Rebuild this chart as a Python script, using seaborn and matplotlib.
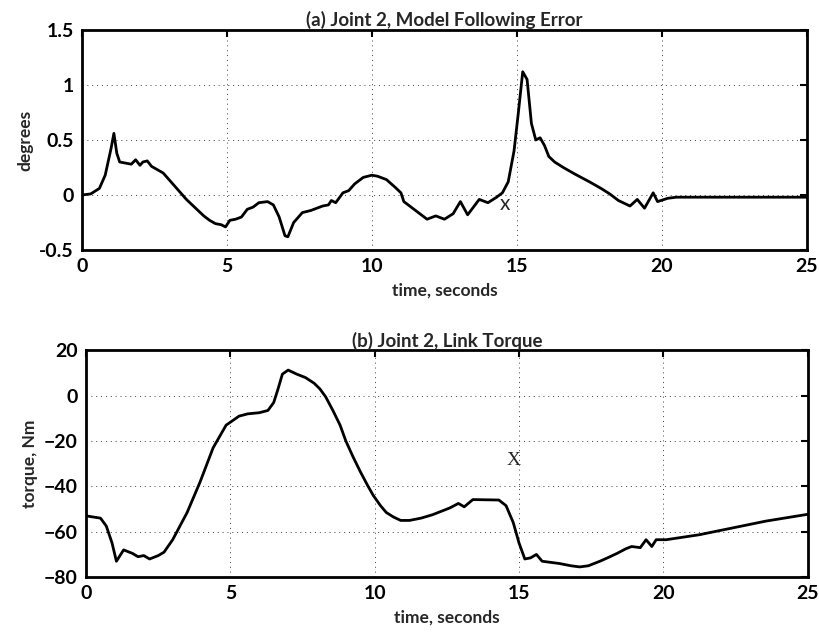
import matplotlib
matplotlib.use("Agg")
import matplotlib.pyplot as plt
import seaborn as sns
import pandas as pd

# ---- data ----
t_err = [0.0, 0.3, 0.6, 0.8, 1.0, 1.1, 1.2, 1.3, 1.5, 1.7, 1.85, 2.0, 2.1, 2.25, 2.4,
         2.6, 2.8, 3.0, 3.2, 3.4, 3.6, 3.8, 4.0, 4.2, 4.4, 4.6, 4.8, 4.95, 5.1, 5.3,
         5.5, 5.7, 5.9, 6.1, 6.4, 6.6, 6.8, 7.0, 7.1, 7.3, 7.6, 7.9, 8.3, 8.5, 8.6,
         8.75, 9.0, 9.2, 9.4, 9.7, 10.0, 10.2, 10.5, 10.8, 11.0, 11.1, 11.4, 11.9,
         12.2, 12.5, 12.8, 13.05, 13.3, 13.7, 14.0, 14.3, 14.5, 14.7, 14.9, 15.05,
         15.2, 15.35, 15.5, 15.65, 15.8, 15.95, 16.1, 16.3, 16.6, 17.0, 17.5, 17.9,
         18.2, 18.5, 18.9, 19.15, 19.4, 19.7, 19.85, 20.2, 20.5, 25.0]
err_deg = [0.0, 0.01, 0.06, 0.18, 0.42, 0.56, 0.38, 0.30, 0.29, 0.28, 0.32, 0.27, 0.30,
           0.31, 0.26, 0.23, 0.20, 0.14, 0.08, 0.02, -0.04, -0.09, -0.14, -0.19, -0.23,
           -0.26, -0.27, -0.29, -0.23, -0.22, -0.20, -0.13, -0.11, -0.07, -0.06, -0.09,
           -0.20, -0.37, -0.38, -0.25, -0.16, -0.14, -0.10, -0.09, -0.05, -0.07, 0.02,
           0.04, 0.10, 0.16, 0.18, 0.17, 0.14, 0.07, 0.02, -0.06, -0.12, -0.22, -0.19,
           -0.22, -0.17, -0.06, -0.18, -0.04, -0.07, -0.02, 0.02, 0.12, 0.40, 0.75,
           1.12, 1.05, 0.65, 0.50, 0.52, 0.45, 0.35, 0.30, 0.25, 0.19, 0.12, 0.06,
           0.01, -0.05, -0.10, -0.04, -0.12, 0.02, -0.06, -0.03, -0.02, -0.02]

t_torque = [0.0, 0.5, 0.7, 0.9, 1.05, 1.3, 1.6, 1.8, 2.0, 2.2, 2.5, 2.7, 3.0, 3.5, 3.95,
            4.4, 4.85, 5.3, 5.6, 6.0, 6.3, 6.5, 6.65, 6.8, 7.0, 7.3, 7.6, 7.9, 8.1,
            8.3, 8.55, 8.8, 9.0, 9.25, 9.5, 9.75, 9.95, 10.2, 10.4, 10.65, 10.9, 11.2,
            11.6, 12.0, 12.6, 12.9, 13.1, 13.4, 14.3, 14.55, 14.8, 15.0, 15.2, 15.4,
            15.6, 15.8, 16.1, 16.4, 16.8, 17.1, 17.4, 17.8, 18.1, 18.4, 18.7, 18.9,
            19.2, 19.4, 19.6, 19.75, 20.1, 21.25, 22.4, 23.55, 25.0]
torque_nm = [-53, -54, -57.5, -65, -73, -68, -69.5, -71, -70.5, -72, -70.5, -69, -63.5,
             -51.5, -38, -23, -13, -9, -8, -7.5, -6.5, -3, 3, 9.5, 11.3, 9.5, 8, 5.5,
             3, -0.5, -6.5, -13, -20, -27, -33.5, -39.5, -44, -48.5, -51.5, -53.5, -55,
             -55, -54, -52.5, -49.5, -47.5, -49, -45.8, -46, -48.5, -56, -65, -72,
             -71.5, -70, -73, -73.5, -74, -75, -75.5, -75, -73, -71.3, -69.5, -67.5,
             -66.5, -67, -63.5, -66.5, -63.5, -63.5, -61.3, -58.3, -55.3, -52.3]

x_ticks = [0, 5, 10, 15, 20, 25]
err_ticks = [-0.5, 0, 0.5, 1, 1.5]
err_labels = ["-0.5", "0", "0.5", "1", "1.5"]
torque_ticks = [-80, -60, -40, -20, 0, 20]

title_a = "(a) Joint 2, Model Following Error"
title_b = "(b) Joint 2, Link Torque"
xlabel = "time, seconds"

sns.set_theme(style="white")
plt.rcParams["font.family"] = ["Lato", "DejaVu Sans"]

fig = plt.figure(figsize=(8.2, 6.37), dpi=100)
ax1 = fig.add_axes([0.100, 0.6075, 0.884, 0.3455])
ax2 = fig.add_axes([0.105, 0.094, 0.880, 0.356])

df1 = pd.DataFrame({"t": t_err, "v": err_deg})
df2 = pd.DataFrame({"t": t_torque, "v": torque_nm})

sns.lineplot(data=df1, x="t", y="v", ax=ax1, color="black", lw=2.0,
             sort=False, estimator=None)
sns.lineplot(data=df2, x="t", y="v", ax=ax2, color="black", lw=2.0,
             sort=False, estimator=None)

def style(ax, yticks, ylim, ylab, title, ylabels=None):
    ax.set_xlim(0, 25)
    ax.set_ylim(*ylim)
    ax.set_xticks(x_ticks)
    ax.set_yticks(yticks)
    if ylabels is not None:
        ax.set_yticklabels(ylabels)
    ax.grid(True, color="black", lw=0.7, linestyle=(0, (1, 4)), alpha=0.75)
    for s in ax.spines.values():
        s.set_visible(True)
        s.set_color("black")
        s.set_linewidth(2.0)
    ax.tick_params(direction="in", length=5, width=1.5, top=True, right=True,
                   labelsize=14, colors="black", pad=6)
    for lab in ax.get_xticklabels() + ax.get_yticklabels():
        lab.set_fontweight("bold")
    ax.set_xlabel(xlabel, fontsize=12.5, fontweight="bold", labelpad=5)
    ax.set_ylabel(ylab, fontsize=12.5, fontweight="bold", labelpad=4)
    ax.set_title(title, fontsize=13.5, fontweight="bold", pad=2.5)

style(ax1, err_ticks, (-0.5, 1.5), "degrees", title_a, err_labels)
style(ax2, torque_ticks, (-80, 20), "torque, Nm", title_b)

ax1.text(14.6, -0.08, "x", fontsize=15, ha="center", va="center")
ax2.text(14.8, -28.5, "X", fontsize=14, ha="center", va="center",
         family="Liberation Serif")

fig.savefig("out.png", dpi=100)
